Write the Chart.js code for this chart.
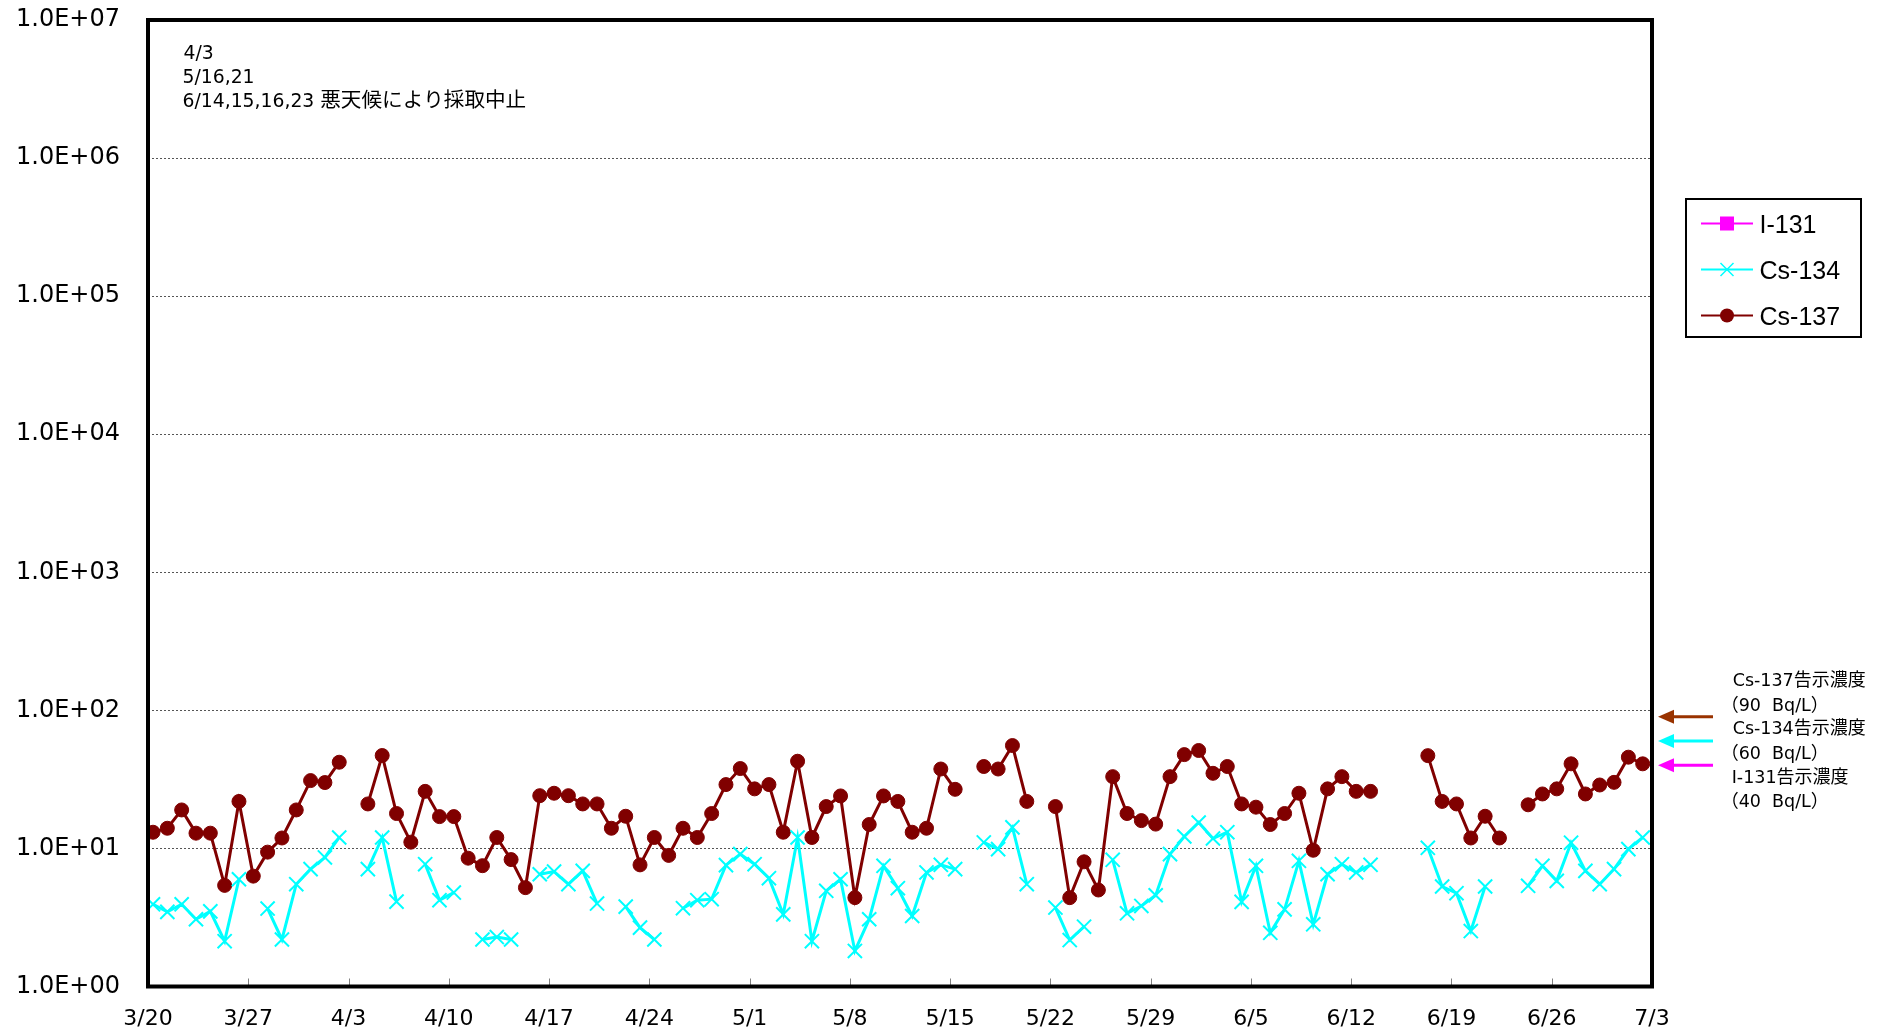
<!DOCTYPE html>
<html>
<head>
<meta charset="utf-8">
<script src="https://cdn.jsdelivr.net/npm/chart.js@4.4.1/dist/chart.umd.min.js"></script>
<style>
  body { margin: 0; background: #fff; }
  canvas { display: block; }
</style>
</head>
<body>
<canvas id="chart1" width="1886" height="1033"></canvas>
<script>
  // one value per day, day 0 = 3/20, day 104 = 7/2 (null = no sample / not detected)
  var tickLabels = ['3/20', '3/27', '4/3', '4/10', '4/17', '4/24', '5/1', '5/8', '5/15', '5/22', '5/29', '6/5', '6/12', '6/19', '6/26', '7/3']
  var yTicks = [1, 10, 100, 1000, 10000, 100000, 1000000, 10000000]

  var cs137 = [
    13.1, 14.0, 19.0, 12.9, 12.9, 5.4, 21.9,
    6.3, 9.4, 11.9, 19.0, 31.0, 30.0, 42.1,
    null, 21.0, 47.1, 17.9, 11.1, 25.9, 17.0,
    17.0, 8.5, 7.5, 12.0, 8.3, 5.2, 24.1,
    25.1, 24.1, 21.0, 21.0, 14.0, 17.1, 7.6,
    12.0, 8.9, 14.0, 12.0, 17.9, 29.0, 37.9,
    27.0, 29.0, 13.1, 42.8, 12.0, 20.1, 24.0,
    4.4, 14.9, 24.0, 21.9, 13.1, 14.0, 37.6,
    26.8, null, 39.2, 37.6, 55.6, 21.9, null,
    20.1, 4.4, 8.0, 5.0, 33.1, 17.9, 15.9,
    15.0, 33.1, 47.8, 51.2, 35.0, 39.2, 21.0,
    19.9, 14.9, 17.9, 25.1, 9.7, 27.0, 33.1,
    25.9, 25.9, null, null, null, 47.0, 21.9,
    21.0, 11.9, 17.1, 11.9, null, 20.7, 24.8,
    27.0, 41.0, 24.8, 28.8, 30.1, 45.8, 41.0
  ]

  var cs134 = [
    3.94, 3.47, 3.94, 3.07, 3.5, 2.13, 5.98,
    null, 3.67, 2.19, 5.51, 7.08, 8.6, 12.0,
    null, 7.08, 12.0, 4.12, null, 7.69, 4.22,
    4.79, null, 2.19, 2.28, 2.19, null, 6.5,
    6.8, 5.51, 6.88, 3.99, null, 3.79, 2.67,
    2.19, null, 3.69, 4.22, 4.29, 7.57, 9.09,
    7.69, 6.09, 3.33, 12.0, 2.13, 4.93, 5.98,
    1.81, 3.07, 7.48, 5.15, 3.24, 6.7, 7.61,
    7.08, null, 11.05, 9.88, 14.2, 5.51, null,
    3.73, 2.17, 2.71, null, 8.27, 3.39, 3.83,
    4.58, 9.09, 12.2, 15.4, 11.8, 13.1, 4.10,
    7.48, 2.45, 3.62, 8.13, 2.82, 6.5, 7.69,
    6.7, 7.61, null, null, null, 10.1, 5.3,
    4.74, 2.52, 5.3, null, null, 5.36, 7.48,
    5.82, 11.0, 6.88, 5.51, 7.08, 9.88, 12.0
  ]

  var i131 = []  // not detected in this period

  // 告示濃度 (Bq/L): Cs-137, Cs-134, I-131
  var limits = [90, 60, 40]
  var limitColors = ['#993300', '#00ffff', '#ff00ff']
  var limitText = ['Cs-137告示濃度', '（90  Bq/L）', 'Cs-134告示濃度', '（60  Bq/L）', 'I-131告示濃度', '（40  Bq/L）']
  var noteText = ['4/3', '5/16,21', '6/14,15,16,23 悪天候により採取中止']

  function toPoints(arr) {
    return arr.map(function (v, i) { return { x: i, y: v } })
  }

  function fmtE(v) {
    var e = Math.round(Math.log10(v))
    return '1.0E+' + (e < 10 ? '0' : '') + e
  }

  // latin chars in one font, japanese in another
  function mixedText(ctx, str, x, y, latin, cjk) {
    var chars = Array.from(str)
    ctx.font = chars[0].charCodeAt(0) > 0x2e80 ? cjk : latin
    var cx = x + ctx.measureText(chars[0]).actualBoundingBoxLeft
    chars.forEach(function (ch) {
      ctx.font = ch.charCodeAt(0) > 0x2e80 ? cjk : latin
      ctx.fillText(ch, cx, y)
      cx += ctx.measureText(ch).width
    })
  }

  const extras = {
    id: 'extras',
    afterDraw(chart) {
      const ctx = chart.ctx
      const a = chart.chartArea
      const xs = chart.scales.x
      const ys = chart.scales.y
      ctx.save()

      // small ticks inside the bottom edge
      ctx.strokeStyle = '#808080'
      ctx.lineWidth = 1
      xs.ticks.forEach(function (t) {
        var px = Math.round(xs.getPixelForValue(t.value)) + 0.5
        ctx.beginPath()
        ctx.moveTo(px, a.bottom - 8)
        ctx.lineTo(px, a.bottom)
        ctx.stroke()
      })

      // frame
      ctx.strokeStyle = '#000'
      ctx.lineWidth = 4
      ctx.strokeRect(a.left, a.top, a.right - a.left, a.bottom - a.top)

      // note top left
      ctx.fillStyle = '#000'
      ctx.textAlign = 'left'
      ctx.textBaseline = 'alphabetic'
      var noteY = [59, 82.5, 106.5]
      noteText.forEach(function (t, k) {
        mixedText(ctx, t, 183.5, noteY[k], '18.8px "DejaVu Sans"', '20.6px "Noto Sans CJK JP"')
      })

      // legend
      var lx = 1686, ly = 199, lw = 175, lh = 138
      ctx.fillStyle = '#fff'
      ctx.fillRect(lx, ly, lw, lh)
      ctx.strokeStyle = '#000'
      ctx.lineWidth = 2
      ctx.strokeRect(lx, ly, lw, lh)
      var rowY = [223.5, 269.5, 315.5]
      chart.data.datasets.forEach(function (ds, k) {
        var y = rowY[k]
        ctx.strokeStyle = ds.borderColor
        ctx.fillStyle = ds.borderColor
        ctx.lineWidth = 2
        ctx.beginPath()
        ctx.moveTo(1701, y)
        ctx.lineTo(1753, y)
        ctx.stroke()
        if (ds.pointStyle == 'rect') {
          ctx.fillRect(1720, y - 7, 14, 14)
        } else if (ds.pointStyle == 'crossRot') {
          ctx.lineWidth = 1.5
          ctx.beginPath()
          ctx.moveTo(1720.5, y - 6.5); ctx.lineTo(1733.5, y + 6.5)
          ctx.moveTo(1720.5, y + 6.5); ctx.lineTo(1733.5, y - 6.5)
          ctx.stroke()
        } else {
          ctx.beginPath()
          ctx.arc(1727, y, 7, 0, Math.PI * 2)
          ctx.fill()
        }
        ctx.fillStyle = '#000'
        ctx.font = '25px "Liberation Sans"'
        ctx.fillText(ds.label, 1759.5, y + 9)
      })

      // arrows to the 告示濃度 levels
      limits.forEach(function (v, k) {
        var y = ys.getPixelForValue(v)
        ctx.strokeStyle = limitColors[k]
        ctx.fillStyle = limitColors[k]
        ctx.lineWidth = 3
        ctx.beginPath()
        ctx.moveTo(1713, y)
        ctx.lineTo(1668, y)
        ctx.stroke()
        ctx.beginPath()
        ctx.moveTo(1658, y)
        ctx.lineTo(1674, y - 7)
        ctx.lineTo(1674, y + 7)
        ctx.closePath()
        ctx.fill()
      })

      ctx.fillStyle = '#000'
      var limY = [685.7, 711, 734.3, 758.7, 782.7, 807.3]
      limitText.forEach(function (t, k) {
        mixedText(ctx, t, 1732.7, limY[k], '17.5px "DejaVu Sans"', '18px "Noto Sans CJK JP"')
      })

      ctx.restore()
    }
  }

  const data = {
    datasets: [{
      label: 'I-131',
      data: toPoints(i131),
      borderColor: '#ff00ff',
      backgroundColor: '#ff00ff',
      borderWidth: 3,
      pointStyle: 'rect',
      pointRadius: 7
    },
    {
      label: 'Cs-134',
      data: toPoints(cs134),
      borderColor: '#00ffff',
      backgroundColor: '#00ffff',
      borderWidth: 3,
      pointStyle: 'crossRot',
      pointRadius: 10,
      pointBorderWidth: 2,
      pointBorderColor: '#00ffff'
    },
    {
      label: 'Cs-137',
      data: toPoints(cs137),
      borderColor: '#800000',
      backgroundColor: '#800000',
      borderWidth: 3,
      pointStyle: 'circle',
      pointRadius: 7,
      pointBorderWidth: 1,
      pointBorderColor: '#800000',
      pointBackgroundColor: '#800000'
    }]
  }

  const config = {
    type: 'line',
    data,
    options: {
      responsive: false,
      animation: false,
      devicePixelRatio: 1,
      spanGaps: false,
      layout: { padding: { top: 20, right: 234, bottom: 0, left: 0 } },
      plugins: {
        legend: { display: false },
        tooltip: { enabled: false }
      },
      scales: {
        x: {
          type: 'linear',
          min: -0.35,
          max: 104.65,
          afterBuildTicks: function (s) {
            s.ticks = tickLabels.map(function (t, k) { return { value: k * 7 - 0.35 } })
          },
          afterFit: function (s) {
            s.height = 46.5
            s.paddingLeft = 0
            s.paddingRight = 0
          },
          grid: { display: false, drawTicks: false },
          border: { display: false },
          ticks: {
            autoSkip: false,
            maxRotation: 0,
            padding: 20,
            color: '#000',
            font: { family: 'DejaVu Sans', size: 22 },
            callback: function (v, k) { return tickLabels[k] }
          }
        },
        y: {
          type: 'logarithmic',
          min: 1,
          max: 10000000,
          afterBuildTicks: function (s) {
            s.ticks = yTicks.map(function (v) { return { value: v } })
          },
          afterFit: function (s) {
            s.width = 148
            s.paddingTop = 0
            s.paddingBottom = 0
          },
          grid: { color: '#555', lineWidth: 1, drawTicks: false },
          border: { display: false, dash: [2, 2] },
          ticks: {
            padding: 28,
            color: '#000',
            font: { family: 'DejaVu Sans', size: 24 },
            callback: function (v) { return fmtE(v) }
          }
        }
      }
    },
    plugins: [extras]
  }

  const myChart = new Chart(document.getElementById('chart1'), config)
</script>
</body>
</html>
